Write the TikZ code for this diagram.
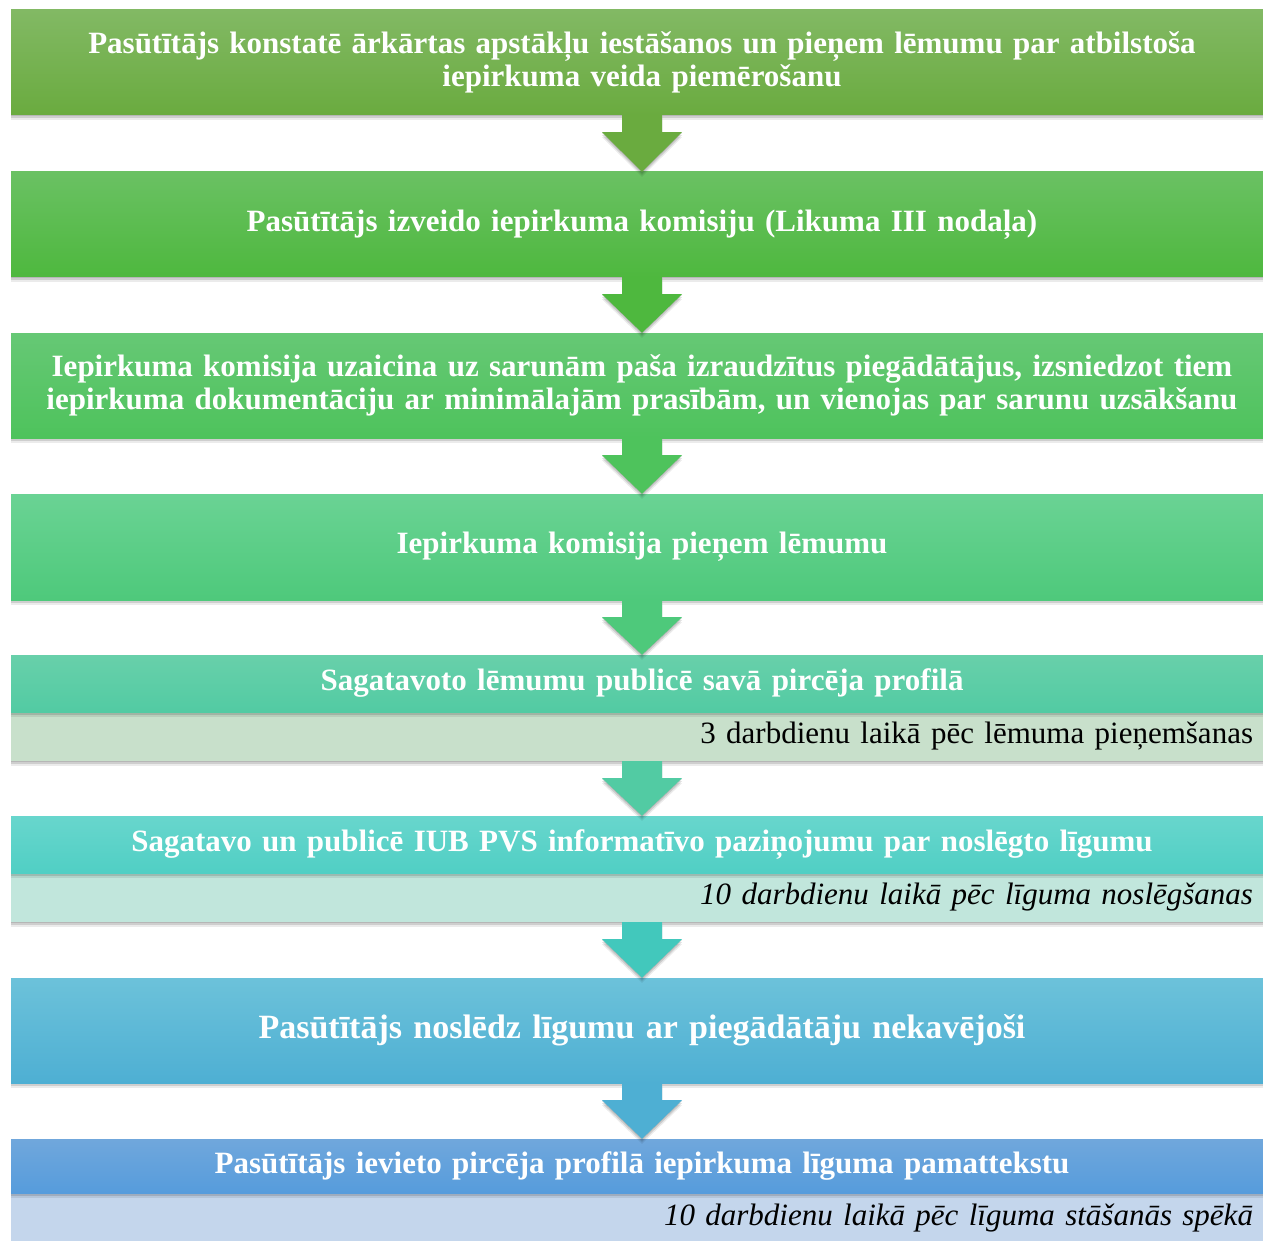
\documentclass[tikz,border=0pt]{standalone}
\usepackage{fontspec}
\setmainfont{Liberation Serif}
\usetikzlibrary{calc,shadows}
\definecolor{cA1}{HTML}{82B964}\definecolor{cA2}{HTML}{6AAB3F}
\definecolor{cB1}{HTML}{6AC163}\definecolor{cB2}{HTML}{4EB83E}
\definecolor{cC1}{HTML}{66C875}\definecolor{cC2}{HTML}{4EC35C}
\definecolor{cD1}{HTML}{6AD394}\definecolor{cD2}{HTML}{4EC97B}
\definecolor{cE1}{HTML}{68D0AA}\definecolor{cE2}{HTML}{52CBA3}
\definecolor{cF1}{HTML}{68D6CD}\definecolor{cF2}{HTML}{50CFC4}
\definecolor{cFa}{HTML}{42C8BC}
\definecolor{cG1}{HTML}{6CC2DA}\definecolor{cG2}{HTML}{4EAFD3}
\definecolor{cH1}{HTML}{70A7DC}\definecolor{cH2}{HTML}{569CDC}
\definecolor{sE}{HTML}{C8E0CB}\definecolor{sF}{HTML}{C1E6DC}\definecolor{sH}{HTML}{C4D6EC}
\tikzset{
  shad/.style={
    drop shadow={shadow xshift=0pt,shadow yshift=-1pt,fill=black,opacity=0.12},
    drop shadow={shadow xshift=0pt,shadow yshift=-3pt,fill=black,opacity=0.12},
    drop shadow={shadow xshift=0pt,shadow yshift=-5pt,fill=black,opacity=0.08}},
  stepbox/.style={shad,minimum width=1262pt,inner sep=0pt,text width=1235pt,align=center,
    text=white,font=\bfseries\fontsize{31}{33}\selectfont},
  grad/.style 2 args={top color=#1,bottom color=#2},
  subbox/.style={shad,minimum width=1262pt,inner sep=0pt,text width=1222pt,align=right,
    text=black,font=\fontsize{31}{33}\selectfont},
}
\newcommand\flowarrow[3]{%
  \fill[#3,shad] ($(#1.south)+(-20pt,0pt)$) -- ($(#1.south)+(20pt,0pt)$) -- ($(#1.south)+(20pt,-17pt)$)
    -- ($(#1.south)+(40pt,-17pt)$) -- (#2.north) -- ($(#1.south)+(-40pt,-17pt)$)
    -- ($(#1.south)+(-20pt,-17pt)$) -- cycle;}
\begin{document}
\begin{tikzpicture}[x=1pt,y=-1pt]
\useasboundingbox (0,0) rectangle (1263,1241);
\node[stepbox,grad={cA1}{cA2},minimum height=105pt] (b1) at (642,62.5)
  {Pasūtītājs konstatē ārkārtas apstākļu iestāšanos un pieņem lēmumu par atbilstoša\\iepirkuma veida piemērošanu};
\node[stepbox,grad={cB1}{cB2},minimum height=105pt] (b2) at (642,224.5)
  {Pasūtītājs izveido iepirkuma komisiju (Likuma III nodaļa)};
\node[stepbox,grad={cC1}{cC2},minimum height=105pt] (b3) at (642,385.5)
  {Iepirkuma komisija uzaicina uz sarunām paša izraudzītus piegādātājus, izsniedzot tiem\\iepirkuma dokumentāciju ar minimālajām prasībām, un vienojas par sarunu uzsākšanu};
\node[stepbox,grad={cD1}{cD2},minimum height=106pt] (b4) at (642,547)
  {Iepirkuma komisija pieņem lēmumu};
\node[subbox,fill=sE,minimum height=49pt] (b5s) at (642,736.5)
  {3 darbdienu laikā pēc lēmuma pieņemšanas};
\node[stepbox,grad={cE1}{cE2},minimum height=57pt] (b5) at (642,683.5)
  {Sagatavoto lēmumu publicē savā pircēja profilā};
\node[subbox,fill=sF,minimum height=49pt] (b6s) at (642,897.5)
  {\itshape 10 darbdienu laikā pēc līguma noslēgšanas};
\node[stepbox,grad={cF1}{cF2},minimum height=57pt] (b6) at (642,844.5)
  {Sagatavo un publicē IUB PVS informatīvo paziņojumu par noslēgto līgumu};
\node[stepbox,grad={cG1}{cG2},minimum height=105pt,font=\bfseries\fontsize{34}{36}\selectfont] (b7) at (642,1030.5)
  {Pasūtītājs noslēdz līgumu ar piegādātāju nekavējoši};
\node[subbox,fill=sH,minimum height=50pt] (b8s) at (642,1218)
  {\itshape 10 darbdienu laikā pēc līguma stāšanās spēkā};
\node[stepbox,grad={cH1}{cH2},minimum height=54pt] (b8) at (642,1166)
  {Pasūtītājs ievieto pircēja profilā iepirkuma līguma pamattekstu};
\flowarrow{b1}{b2}{cA2}
\flowarrow{b2}{b3}{cB2}
\flowarrow{b3}{b4}{cC2}
\flowarrow{b4}{b5}{cD2}
\flowarrow{b5s}{b6}{cE2}
\flowarrow{b6s}{b7}{cFa}
\flowarrow{b7}{b8}{cG2}
\end{tikzpicture}
\end{document}
